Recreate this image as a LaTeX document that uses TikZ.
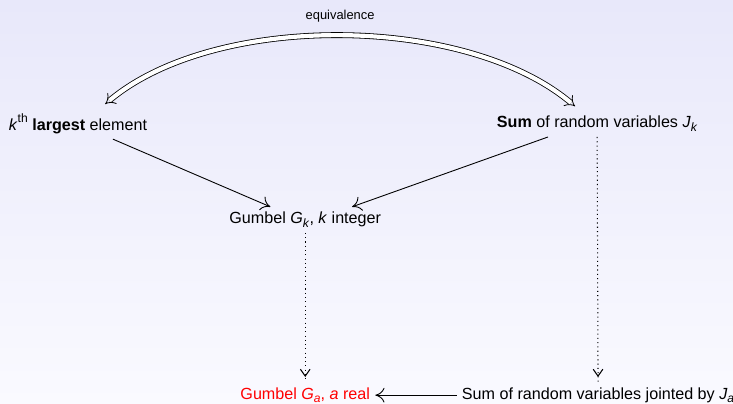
\documentclass[tikz,border=0pt]{standalone}
\usepackage{fontspec}
\setmainfont{Liberation Sans}
\usetikzlibrary{arrows.meta, decorations.markings}
\definecolor{cbgtop}{RGB}{232,232,250}
\definecolor{cbgbot}{RGB}{250,250,255}
\definecolor{cred}{RGB}{255,0,0}
\newcommand{\lowsub}[1]{\raisebox{-0.45ex}{\fontsize{7.5}{8}\selectfont\textit{#1}}}
\newcommand{\highsup}[1]{\raisebox{0.9ex}{\fontsize{7.5}{8}\selectfont #1}}
\tikzset{
  every picture/.style={font=\fontsize{10}{12}\selectfont, line width=0.55pt},
  item/.style={align=center, inner sep=3pt},
  arrow/.style={-{Computer Modern Rightarrow[length=2mm,width=3.2mm]}},
  equiv/.style={double, double distance=2.6pt, line width=0.5pt, {Implies}-{Implies}},
  ydot/.style={dotted, line width=0.65pt, postaction={decorate},
    decoration={markings, mark=at position -1.1mm with {\arrow[solid]{Straight Barb[length=1.5mm,width=2.1mm]}}}},
  note/.style={font=\fontsize{8}{10}\selectfont},
}

\begin{document}
\begin{tikzpicture}
  \shade[top color=cbgtop, bottom color=cbgbot] (0,0) rectangle (15.97,-8.80);
  \useasboundingbox (0,0) rectangle (15.97,-8.80);
  % top row
  \node[item] (lg) at (1.70,-2.70) {\textit{k}\highsup{th} \textbf{largest} element};
  \node[item] (sj) at (13.01,-2.70) {\textbf{Sum} of random variables \textit{J}\lowsub{k}};
  % middle
  \node[item] (gk) at (6.65,-4.79) {Gumbel \textit{G}\lowsub{k}, \textit{k} integer};
  % bottom row
  \node[item, text=cred] (ga) at (6.65,-8.61) {Gumbel \textit{G}\lowsub{a}, \textit{a} real};
  \node[item] (sr) at (13.03,-8.61) {Sum of random variables jointed by \textit{J}\lowsub{a}};

  \draw[equiv] ([xshift=0.59cm,yshift=1mm]lg.north) to[out=40, in=140, looseness=0.78]
    node[midway, above=5pt, note] (eq) {equivalence} ([xshift=-0.48cm,yshift=1mm]sj.north);
  \draw[arrow] ([xshift=0.76cm]lg.south) -- ([xshift=-0.76cm]gk.north);
  \draw[arrow] ([xshift=-1.07cm]sj.south) -- ([xshift=1.02cm]gk.north);
  \draw[ydot] (gk.south) -- (ga.north);
  \draw[ydot] (sj.south) -- (sr.north);
  \draw[arrow] (sr.west) -- (ga.east);
\end{tikzpicture}
\end{document}
